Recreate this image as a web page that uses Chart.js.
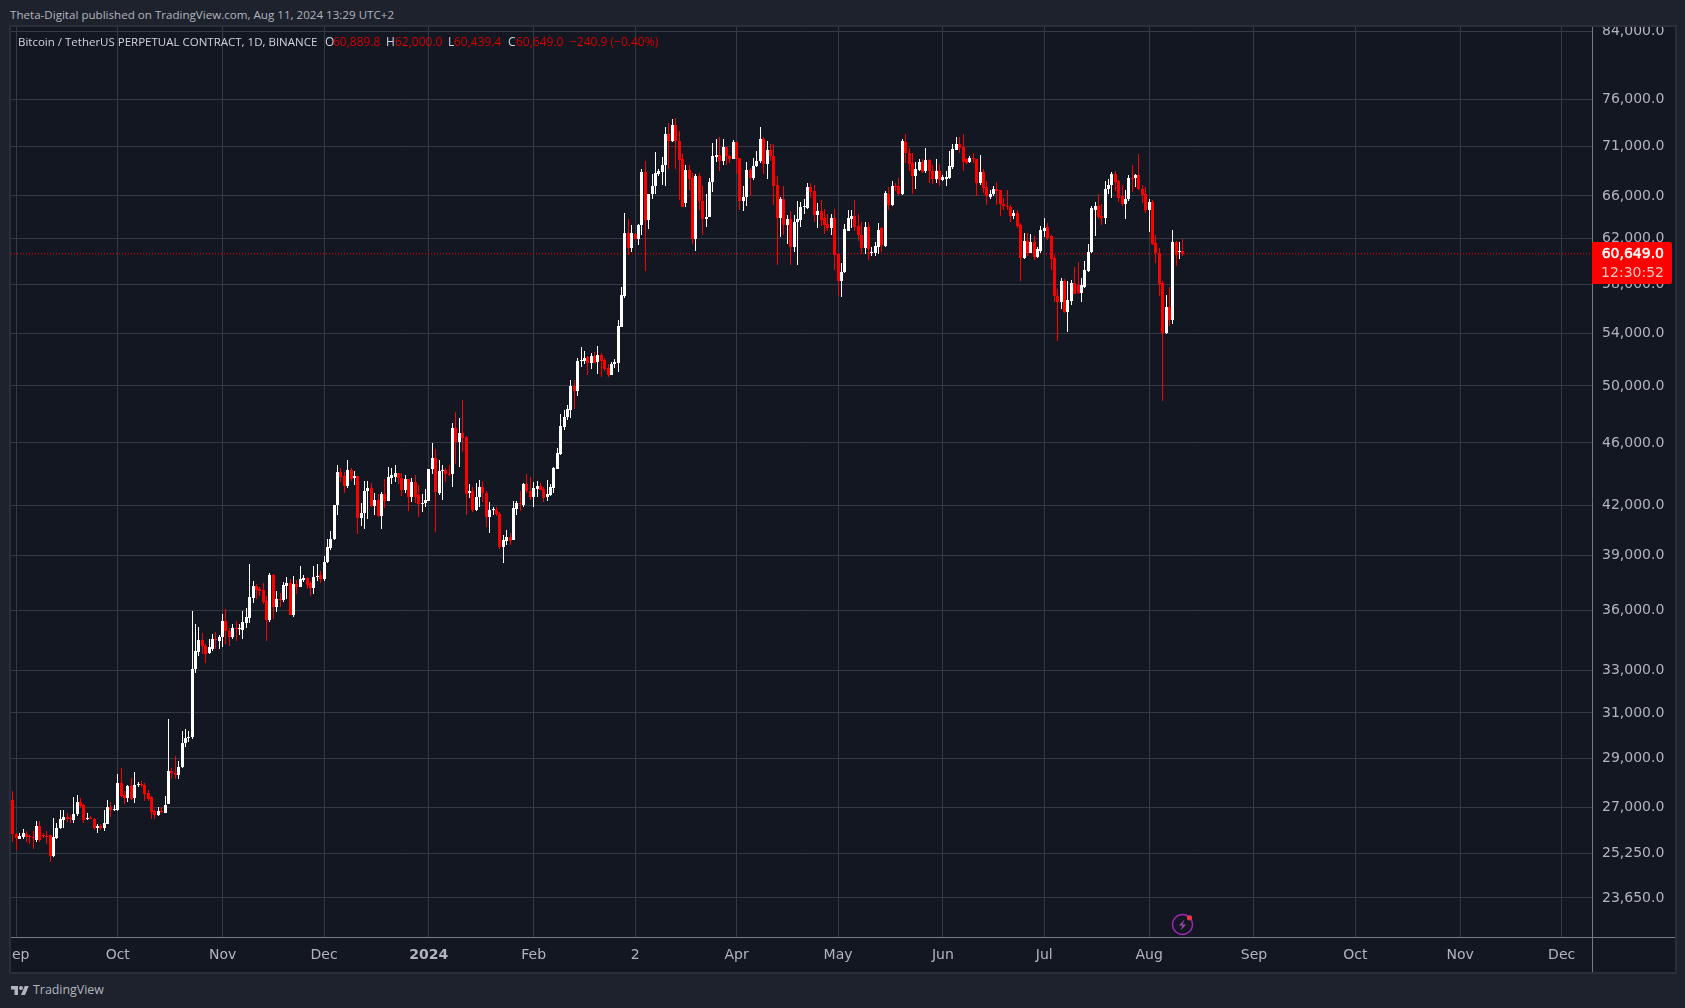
<!DOCTYPE html>
<html><head><meta charset="utf-8">
<script src="https://cdn.jsdelivr.net/npm/chart.js@4"></script>
<style>
html,body{margin:0;padding:0;width:1685px;height:1008px;background:#1e222d;overflow:hidden}
.t{position:absolute;white-space:nowrap;font-family:"Open Sans",sans-serif;font-size:12px;line-height:16px;color:#b2b5be}
.r{color:#d40000}
#wrap{position:absolute;left:9px;top:25px;width:1664px;height:945px;border:2px solid #2a2e39;background:#131722}
#c{position:absolute;left:0;top:0;display:block}
</style></head><body>
<div class="t" id="pub" style="left:10px;top:7px;font-size:11.6px">Theta-Digital published on TradingView.com, Aug 11, 2024 13:29 UTC+2</div>
<div id="wrap"><canvas id="c" width="1664" height="945"></canvas></div>
<div class="t" id="leg" style="left:18px;top:34px;color:#d1d4dc;font-size:11.5px">Bitcoin / TetherUS PERPETUAL CONTRACT, 1D, BINANCE</div>
<div class="t" style="left:325px;top:34px;color:#d1d4dc">O</div><div class="t r" style="left:333px;top:34px">60,889.8</div>
<div class="t" style="left:386px;top:34px;color:#d1d4dc">H</div><div class="t r" style="left:395px;top:34px">62,000.0</div>
<div class="t" style="left:448px;top:34px;color:#d1d4dc">L</div><div class="t r" style="left:454px;top:34px">60,439.4</div>
<div class="t" style="left:508px;top:34px;color:#d1d4dc">C</div><div class="t r" style="left:516px;top:34px">60,649.0</div>
<div class="t r" style="left:570px;top:34px">−240.9 (−0.40%)</div>
<svg style="position:absolute;left:10px;top:985px" width="20" height="11" viewBox="0 0 36 22"><path fill="#b2b5be" d="M14 20H7V9H0V2h14v18zM28 20h-8l7.5-18h8L28 20z"/><circle cx="20" cy="6" r="4" fill="#b2b5be"/></svg>
<div class="t" style="left:33px;top:982px;font-size:12.4px">TradingView</div>
<svg style="position:absolute;left:1170px;top:912px" width="26" height="26" viewBox="0 0 26 26"><circle cx="12.5" cy="12.5" r="10" fill="none" stroke="#9c27b0" stroke-width="1.4"/><path d="M14.5 7.5 9 13.5h3.5l-2 5 5.5-6h-3.5z" fill="#ab47bc"/><circle cx="19.5" cy="5.8" r="2.6" fill="#f23645"/></svg>
<script>
// [open, high, low, close], one small list per month
const aug23=[[27720,27760,27000,27290],[27290,27670,25680,25970]];
const sep23=[[25970,26010,25380,25820],[25790,26000,25780,25880],[25850,26150,25790,26000],[25970,26090,25680,25850],[25880,25940,25590,25850],[25850,26090,25410,25820],[25760,26480,25650,26270],[26270,26450,25680,25730],[25900,26000,25820,25880],[25890,26090,25590,25850],
[25940,25950,24920,25130],[25130,26580,25120,25850],[25820,26380,25790,26200],[26190,26910,26160,26530],[26510,26910,26200,26620],[26620,26770,26440,26560],[26580,26700,26400,26540],[26500,27400,26380,26750],[26730,27480,26680,27210],[27210,27370,26960,27060],
[27080,27130,26380,26500],[26540,26770,26520,26570],[26590,26680,26530,26560],[26560,26590,26130,26210],[26210,26370,26000,26290],[26290,26370,26120,26210],[26200,26900,26100,26380],[26350,27290,26340,27010],[27010,27230,26630,26880],[26880,27100,26870,26930]];
const oct23=[[26900,28350,26870,27970],[27970,28590,27430,27460],[27490,27670,27130,27380],[27380,27900,27220,27860],[27860,28190,27290,27350],[27380,28450,27190,27900],[27900,28040,27820,27930],[27930,28060,27800,27880],[27900,27970,27270,27550],[27590,27710,27270,27350],
[27400,27450,26530,26810],[26840,26950,26550,26700],[26700,27010,26680,26840],[26820,27000,26760,26800],[26790,27450,26780,27110],[27130,30720,27130,28470],[28470,28590,28130,28390],[28390,29110,28130,28290],[28300,28900,28130,28650],[28630,30200,28580,29650],
[29650,30280,29480,29870],[29870,30190,29690,29940],[29940,36000,29850,33060],[33050,35300,32880,33940],[33890,35130,33690,34490],[34490,34840,33780,34160],[34160,34290,33360,33790],[33860,34540,33800,34110],[34050,34810,33940,34520],[34510,34890,34040,34480],[34440,34740,34040,34650]];
const nov23=[[34640,35810,34110,35456],[35456,36060,34290,34950],[34950,35100,34160,34640],[34620,35300,34560,35100],[35100,35460,34410,35030],[35030,35300,34740,35060],[35000,35960,34540,35400],[35370,36150,35100,35660],[35610,38540,35340,36720],[36690,37590,36410,37320],
[37320,37430,36620,37110],[37140,37280,36790,37050],[37110,37480,36370,36480],[36530,36790,34440,35510],[35510,38040,35400,37920],[37920,37980,35560,36170],[36170,37050,35930,36620],[36620,36930,36210,36580],[36580,37520,36440,37370],[37320,37820,36620,37480],
[37460,37690,35760,35780],[35760,37860,35670,37430],[37430,37640,36890,37270],[37280,38430,37280,37700],[37640,37920,37550,37730],[37770,37790,37160,37370],[37460,37590,36760,37220],[37230,38430,36890,37820],[37820,38540,37590,37860],[37920,38130,37500,37700]];
const dec23=[[37680,39000,37590,38660],[38660,39970,38620,39480],[39450,40440,39350,39950],[39950,42000,39930,41990],[41990,44560,41400,44090],[44090,44330,43450,43780],[43800,44100,42770,43180],[43220,44840,43090,44200],[44200,44370,43500,43640],[43700,44140,43230,43800],
[43800,43810,40270,41220],[41240,42120,40740,41520],[41500,43480,40560,42900],[42860,43480,41160,43080],[43080,43380,41900,41950],[41950,42780,41400,42320],[42320,42690,41300,41340],[41340,42830,40560,42680],[42680,43620,41840,42250],[42250,44430,42230,43750],
[43730,44330,43350,43900],[43780,44560,43430,44010],[44010,44030,43350,43720],[43720,44010,42560,42940],[42940,43900,42730,43640],[43640,43650,41670,42520],[42520,43700,42210,43460],[43460,43900,42110,42520],[42630,43230,41250,42070],[42100,42680,41570,42140],[42150,43020,41900,42320]];
const jan24=[[42250,44270,42230,44260],[44250,46010,43970,45000],[45000,45590,40370,42800],[42780,44890,42650,44160],[44130,44560,42320,44200],[44200,44330,43450,43930],[43930,44560,43860,43900],[43930,47330,43140,47010],[47010,48100,44580,46040],[46040,47680,44430,46690],
[46690,48980,45390,46350],[46400,46500,41400,42700],[42780,43320,42470,42880],[42880,43110,41600,41690],[41690,43360,41650,42530],[42530,43590,41900,43110],[43110,43480,42210,42770],[42770,42880,40690,41300],[41300,42210,40330,41690],[41690,41900,41400,41720],
[41690,41860,41350,41490],[41490,41560,39400,39530],[39510,40200,38600,39910],[39850,40530,39620,40100],[40100,40330,39620,39850],[39910,42250,39910,41820],[41780,42280,41400,42150],[42150,42880,41650,42070],[42000,43400,41900,43320],[43320,43960,42730,42880],[42880,43770,42320,42490]];
const feb24=[[42490,43470,41900,43040],[43000,43520,42530,43190],[43190,43380,42940,42940],[42980,43110,42210,42470],[42530,43600,42250,42700],[42630,43340,42560,43110],[43090,44430,42770,44320],[44280,45640,44250,45310],[45260,48000,45200,47160],[47100,48270,46870,47800],
[47800,48630,47600,48340],[48270,50440,47680,49990],[49990,50440,48340,49640],[49640,52100,49300,51860],[51860,52900,51430,51900],[51880,52600,51650,52100],[52160,52200,50770,51670],[51670,52440,51280,52200],[52200,52510,51690,51740],[51790,53000,50860,52280],
[52280,52440,50690,51840],[51910,52060,51100,51280],[51330,51640,50680,50820],[50800,51800,50770,51620],[51640,52030,51350,51770],[51690,55060,51000,54580],[54530,57810,54520,57110],[57060,64350,56830,62500],[62500,63790,60550,61130]];
const mar24=[[61130,63260,60850,62500],[62390,62500,61800,61990],[61980,63360,61440,63260],[63260,68630,62350,68360],[68360,69470,59170,63720],[63720,66200,62860,66190],[66190,68160,65710,66970],[66970,70420,66160,68220],[68170,68630,68000,68420],[68400,69860,67110,69050],
[69050,72970,67000,72270],[72270,73420,68650,71520],[71480,73870,71470,73220],[73220,73970,68650,71520],[71520,72580,65620,69570],[69620,70140,64900,64910],[65300,69030,64920,68560],[68560,69100,66560,67660],[67720,68240,61560,61970],[61970,68160,60880,67920],
[67920,68300,64620,65500],[65500,66950,62350,63800],[63800,66190,63060,64040],[64010,67740,63960,67340],[67340,71290,66360,69980],[69920,71760,69360,70070],[70070,71950,68480,69480],[69480,71760,69070,70870],[70900,70950,69060,69980],[69950,70100,69300,69710],[69710,71640,69700,71390]];
const apr24=[[71390,71470,68160,69710],[69780,69790,64620,65500],[65500,66970,64530,65900],[65900,69390,65060,68560],[68560,68740,66000,67720],[67720,69780,67550,68950],[68910,70490,68870,69480],[69440,72970,69270,71760],[71760,71950,68200,69120],[69120,71500,67660,70560],
[70560,71200,69450,70000],[70000,71200,65130,67000],[67060,68000,59670,63900],[63900,65900,62160,65720],[65720,67000,62350,63240],[63240,64190,61560,63820],[63820,64570,59670,61260],[61260,64190,60850,63510],[63510,65500,59640,63820],[63720,65400,63050,64910],
[64900,65710,64300,64950],[64850,67240,64750,66840],[66840,67240,65800,66400],[66470,67070,63560,64180],[64180,65300,62980,64570],[64570,65620,63180,63720],[63880,64780,62430,63240],[63320,64260,62680,62960],[62960,64300,62340,63880],[63880,64750,59230,60550]];
const may24=[[60610,60640,57050,58290],[58290,59880,56900,59070],[59020,63330,58970,62860],[62720,64670,62680,63900],[63820,64670,62980,64090],[64090,65620,62700,63060],[63130,64300,61800,62350],[62350,63560,60650,61130],[61130,63560,60600,63060],[63060,63560,60120,61100],
[60700,61280,60500,60800],[60720,61680,60450,61350],[61280,63440,60650,62800],[62950,63080,60850,61450],[61390,66450,61250,66250],[66190,66840,64620,65160],[65160,67450,65070,67000],[67000,67240,66530,66900],[66970,67800,66130,66160],[66160,71700,66070,71500],
[71460,72270,69240,70250],[70250,70830,68500,69200],[69240,70250,66190,68000],[68000,69330,66680,68660],[68600,69700,68440,69370],[69400,69680,68280,68370],[68470,70780,68280,69550],[69550,69620,67310,68500],[68500,69070,67200,67650],[67650,69700,67310,68470],[68470,69150,66940,67600]];
const jun24=[[67600,68050,67500,67830],[67700,68500,67000,67860],[67800,70490,67670,68960],[68900,71230,68700,70690],[70630,71920,70570,71230],[71230,71920,70250,70780],[70880,72270,68470,69400],[69630,69730,69150,69300],[69350,70000,69300,69800],[69730,70250,69250,69630],
[69630,69640,66030,67290],[67290,70100,67050,68400],[68400,68630,66310,66780],[66910,67500,65180,65980],[65930,66540,65700,66200],[66200,67000,66000,66650],[66650,67400,65180,66500],[66550,66560,64100,65240],[65270,65850,64650,65010],[65070,66550,64640,64910],
[64940,65180,63500,64120],[64090,64640,63800,64370],[64340,64640,63000,63190],[63250,63410,58290,60280],[60280,62480,60200,61760],[61760,62480,60500,60750],[60750,62420,60690,61700],[61700,62220,60100,60400],[60400,61280,60300,61040],[60920,63200,60690,62820]];
const jul24=[[62720,63940,62200,62980],[63060,63410,61910,62060],[62220,62380,59270,60200],[60280,60530,56550,57000],[57000,57600,53420,56550],[56550,58530,55930,58290],[58290,58440,55620,55670],[55670,58290,54120,56680],[56630,58350,56260,58150],[58090,59490,57210,57210],
[57960,59890,57150,57300],[57300,58530,56500,57960],[57810,60000,57700,59230],[59170,61500,59100,60830],[60800,65000,60750,64820],[64650,65400,62250,65050],[65050,66190,63800,63970],[64090,65190,63270,63940],[63940,67450,63330,66650],[66650,67700,66190,67100],
[67100,68400,65810,68200],[68200,68470,66510,67370],[67460,67520,65460,65800],[66020,67100,65070,65280],[65280,66600,63800,65750],[65680,68030,65500,67800],[67770,69090,66430,67640],[67770,68200,66900,68100],[68100,70180,66550,66650],[66710,67040,65340,66090],[66190,66910,64400,64650]];
const aug24=[[64650,65700,62620,65400],[65400,65620,61400,61560],[61650,62380,59800,60690],[60690,61160,57020,58030],[58110,58320,48930,54000],[54000,57130,53950,56080],[56080,57810,54570,55060],[55060,62800,54740,61680],[61740,61800,59560,60510],[60850,61740,60200,60890],[60889.8,62000,60439.4,60649]];

const monthTickDays=[0,30,61,91,122,153,183,213,243,274,304,335,366,396,427,457];
const monthTickLabels=['Sep','Oct','Nov','Dec','2024','Feb','2','Apr','May','Jun','Jul','Aug','Sep','Oct','Nov','Dec'];
const priceTicks=[84000,76000,71000,66000,62000,58000,54000,50000,46000,42000,39000,36000,33000,31000,29000,27000,25250,23650];
const lastPrice=60649;
const countdown='12:30:52';
const firstDay=-2;

const rows=[...aug23,...sep23,...oct23,...nov23,...dec23,...jan24,...feb24,...mar24,...apr24,...may24,...jun24,...jul24,...aug24];
const UP='#ffffff',DOWN='#ff0000',GRID='#363a45',AXIS='#787b86',LABEL='#b2b5be',FONT='"DejaVu Sans"';
const X_MIN=-1.57,X_MAX=465.97,Y_MIN=22339,Y_MAX=84498;
const fmt=v=>v.toLocaleString('en-US',{minimumFractionDigits:1,maximumFractionDigits:1});
const colors=rows.map(r=>r[3]>=r[0]?UP:DOWN);

const snap={id:'snap',afterDatasetsUpdate(chart){
  chart.getSortedVisibleDatasetMetas().forEach(m=>{
    if(m.type!=='bar')return;
    m.data.forEach(el=>{
      el.x=Math.floor(el.x)+.5;
      let a=Math.round(el.y),b=Math.round(el.base);
      if(a===b)b=a+1;
      el.y=a;el.base=b;
    });
  });
}};
const chrome={id:'chrome',afterDraw(chart){
  const {ctx,chartArea:a,width,height,scales:{y}}=chart;
  ctx.save();
  ctx.strokeStyle=AXIS;ctx.lineWidth=1;
  ctx.beginPath();
  ctx.moveTo(a.right+.5,0);ctx.lineTo(a.right+.5,height);
  ctx.moveTo(0,a.bottom+.5);ctx.lineTo(width,a.bottom+.5);
  ctx.stroke();
  const py=y.getPixelForValue(lastPrice);
  const top=Math.round(py)-12;
  ctx.fillStyle='#ff0000';
  ctx.beginPath();ctx.roundRect(a.right,top,80,42,[0,2,2,0]);ctx.fill();
  ctx.textAlign='right';ctx.textBaseline='middle';
  ctx.font='14px '+FONT;ctx.fillStyle='#ffffff';ctx.strokeStyle='#ffffff';ctx.lineWidth=.5;
  ctx.fillText(fmt(lastPrice),a.right+72,top+12);
  ctx.strokeText(fmt(lastPrice),a.right+72,top+12);
  ctx.fillStyle='#ffc4c4';
  ctx.fillText(countdown,a.right+72,top+31);
  ctx.restore();
}};
new Chart(document.getElementById('c'),{
  type:'bar',
  plugins:[snap,chrome],
  data:{datasets:[
    {label:'Body',data:rows.map((r,i)=>({x:firstDay+i,y:[Math.min(r[0],r[3]),Math.max(r[0],r[3])]})),backgroundColor:colors,barThickness:3,minBarLength:1,grouped:false,inflateAmount:0,borderWidth:0},
    {label:'Wick',data:rows.map((r,i)=>({x:firstDay+i,y:[r[2],r[1]]})),backgroundColor:colors,barThickness:1,grouped:false,inflateAmount:0,borderWidth:0},
    {type:'line',label:'Last',data:[{x:X_MIN,y:lastPrice},{x:X_MAX,y:lastPrice}],borderColor:'#ff0000',borderWidth:1,borderDash:[1,2],pointRadius:0,order:5}
  ]},
  options:{
    responsive:false,animation:false,devicePixelRatio:1,
    layout:{padding:0},
    plugins:{legend:{display:false},tooltip:{enabled:false},title:{display:false}},
    scales:{
      x:{type:'linear',min:X_MIN,max:X_MAX,offset:false,
        grid:{color:GRID,offset:false,drawTicks:false,lineWidth:1},border:{display:false},
        afterBuildTicks:s=>{s.ticks=monthTickDays.map(v=>({value:v}));},
        afterFit:s=>{s.height=35;s.paddingLeft=0;s.paddingRight=0;},
        ticks:{autoSkip:false,maxRotation:0,minRotation:0,padding:10,color:LABEL,
          callback:(v,i)=>monthTickLabels[i],
          font:c=>({family:FONT,size:14,weight:monthTickLabels[c.index]==='2024'?'bold':'normal'})}},
      y:{type:'logarithmic',position:'right',min:Y_MIN,max:Y_MAX,
        grid:{color:GRID,drawTicks:false,lineWidth:1},border:{display:false},
        afterBuildTicks:s=>{s.ticks=priceTicks.map(v=>({value:v}));},
        afterFit:s=>{s.width=83;s.paddingTop=0;s.paddingBottom=0;},
        ticks:{autoSkip:false,padding:10,color:LABEL,callback:v=>fmt(v),font:{family:FONT,size:14}}}
    }
  }
});
</script>
</body></html>
